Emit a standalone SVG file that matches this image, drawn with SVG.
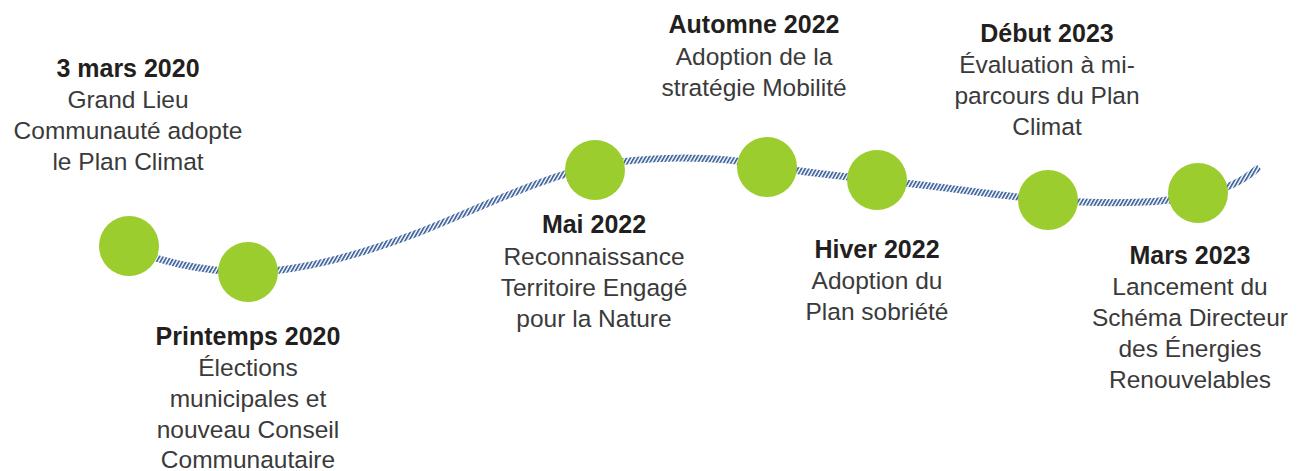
<svg xmlns="http://www.w3.org/2000/svg" width="1303" height="471" viewBox="0 0 1303 471">
<style>
text{font-family:"Liberation Sans",Arial,Helvetica,sans-serif;text-anchor:middle}
.t{font-weight:bold;font-size:25px;fill:#231f20}
.b{font-size:24.5px;fill:#3a3a3a}
.dot{fill:#9acd2d}
</style>
<defs>
<pattern id="hatch" patternUnits="userSpaceOnUse" width="3.2" height="12" patternTransform="rotate(30)">
<rect x="0" y="0" width="1.8" height="12" fill="#44689f"/>
</pattern>
</defs>
<rect width="1303" height="471" fill="#ffffff"/>
<g id="connectors">
<path d="M129 250 C160 260,200 272,248 272 C300 272,360 255,420 232 C480 208,540 178,595 166 C640 157,710 154,767 166 C800 172,840 176,877 180 C940 186,990 195,1048 200 C1100 204,1150 205,1198 196 C1225 190,1245 180,1259 167" fill="none" stroke="url(#hatch)" stroke-width="7"/>
</g>
<g id="n1">
<circle class="dot" cx="129" cy="246" r="30"/>
<text class="t" x="128" y="77">3 mars 2020</text>
<text class="b" x="128" y="108">Grand Lieu</text>
<text class="b" x="128" y="139">Communauté adopte</text>
<text class="b" x="128" y="170">le Plan Climat</text>
</g>
<g id="n2">
<circle class="dot" cx="248" cy="272" r="30"/>
<text class="t" x="248" y="345">Printemps 2020</text>
<text class="b" x="248" y="376">Élections</text>
<text class="b" x="248" y="407">municipales et</text>
<text class="b" x="248" y="438">nouveau Conseil</text>
<text class="b" x="248" y="468">Communautaire</text>
</g>
<g id="n3">
<circle class="dot" cx="595" cy="170" r="30"/>
<text class="t" x="594" y="233">Mai 2022</text>
<text class="b" x="594" y="265">Reconnaissance</text>
<text class="b" x="594" y="296">Territoire Engagé</text>
<text class="b" x="594" y="327">pour la Nature</text>
</g>
<g id="n4">
<circle class="dot" cx="767" cy="167" r="30"/>
<text class="t" x="754" y="33">Automne 2022</text>
<text class="b" x="754" y="65">Adoption de la</text>
<text class="b" x="754" y="96">stratégie Mobilité</text>
</g>
<g id="n5">
<circle class="dot" cx="877" cy="180" r="30"/>
<text class="t" x="877" y="258">Hiver 2022</text>
<text class="b" x="877" y="289">Adoption du</text>
<text class="b" x="877" y="320">Plan sobriété</text>
</g>
<g id="n6">
<circle class="dot" cx="1048" cy="200" r="30"/>
<text class="t" x="1047" y="42">Début 2023</text>
<text class="b" x="1047" y="73">Évaluation à mi-</text>
<text class="b" x="1047" y="104">parcours du Plan</text>
<text class="b" x="1047" y="135">Climat</text>
</g>
<g id="n7">
<circle class="dot" cx="1198" cy="193" r="30"/>
<text class="t" x="1190" y="264">Mars 2023</text>
<text class="b" x="1190" y="295">Lancement du</text>
<text class="b" x="1190" y="326">Schéma Directeur</text>
<text class="b" x="1190" y="357">des Énergies</text>
<text class="b" x="1190" y="388">Renouvelables</text>
</g>
</svg>
